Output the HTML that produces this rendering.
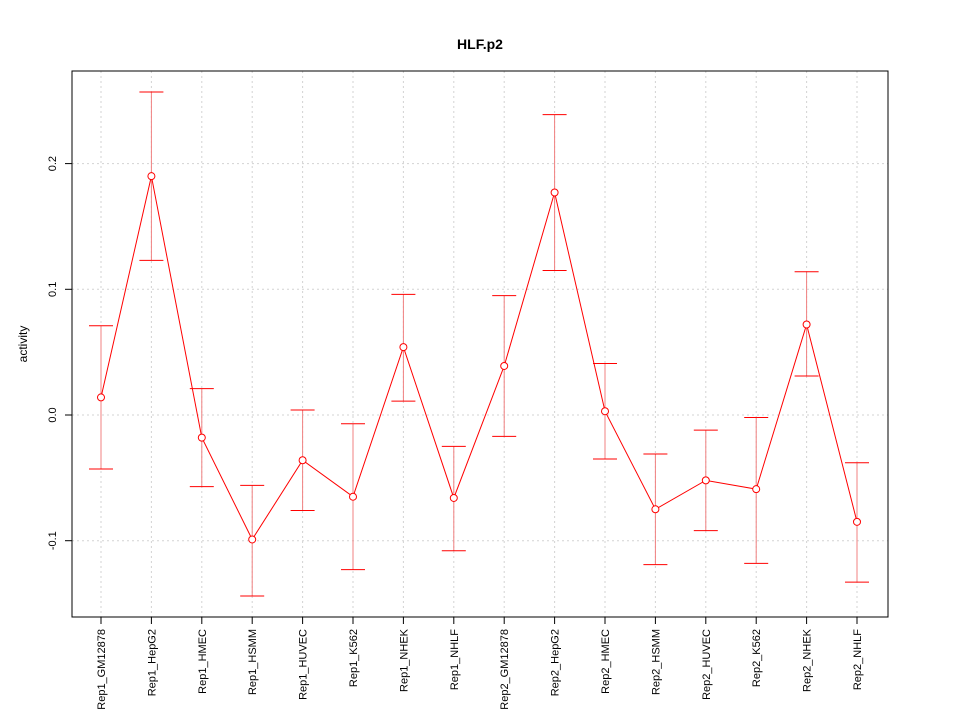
<!DOCTYPE html>
<html><head><meta charset="utf-8"><style>body{margin:0;background:#fff}svg{display:block;font-family:"Liberation Sans",sans-serif}</style></head>
<body>
<svg id="chart" width="960" height="720" xmlns="http://www.w3.org/2000/svg">
<rect width="960" height="720" fill="#fff"/>
<text x="480" y="49" text-anchor="middle" font-size="14" font-weight="bold">HLF.p2</text>
<text transform="translate(27,344) rotate(-90)" text-anchor="middle" font-size="12">activity</text>
<g id="grid"></g><g id="marks"></g><g id="axes"></g>
<rect x="72" y="71" width="816" height="546" fill="none" stroke="#000"/>
</svg>
<script>
const categories=["Rep1_GM12878","Rep1_HepG2","Rep1_HMEC","Rep1_HSMM","Rep1_HUVEC","Rep1_K562","Rep1_NHEK","Rep1_NHLF","Rep2_GM12878","Rep2_HepG2","Rep2_HMEC","Rep2_HSMM","Rep2_HUVEC","Rep2_K562","Rep2_NHEK","Rep2_NHLF"];
const values=[0.014,0.190,-0.018,-0.099,-0.036,-0.065,0.054,-0.066,0.039,0.177,0.003,-0.075,-0.052,-0.059,0.072,-0.085];
const upper=[0.071,0.257,0.021,-0.056,0.004,-0.007,0.096,-0.025,0.095,0.239,0.041,-0.031,-0.012,-0.002,0.114,-0.038];
const lower=[-0.043,0.123,-0.057,-0.144,-0.076,-0.123,0.011,-0.108,-0.017,0.115,-0.035,-0.119,-0.092,-0.118,0.031,-0.133];
const yTicks=[-0.1,0.0,0.1,0.2];
const yTickLabels=["-0.1","0.0","0.1","0.2"];
const NS="http://www.w3.org/2000/svg";
const x=i=>101+i*(857-101)/(categories.length-1);
const y=v=>415-v*1257;
function mk(p,t,a){const e=document.createElementNS(NS,t);for(const k in a)e.setAttribute(k,a[k]);p.appendChild(e);return e;}
const grid=document.getElementById('grid'),marks=document.getElementById('marks'),axes=document.getElementById('axes');
categories.forEach((c,i)=>{
 const g=mk(grid,'line',{x1:x(i),x2:x(i),y1:71,y2:617,stroke:'#d3d3d3','stroke-dasharray':'2,3'});
 
 
 const t=mk(axes,'line',{x1:x(i),x2:x(i),y1:617,y2:624,stroke:'#000'});
 
 
 const l=mk(axes,'text',{transform:`translate(${x(i)+4},629) rotate(-90)`,'text-anchor':'end','font-size':'11'});
 l.textContent=c;
 
 
});
yTicks.forEach((v,i)=>{
 const g=mk(grid,'line',{x1:72,x2:888,y1:y(v),y2:y(v),stroke:'#d3d3d3','stroke-dasharray':'2,3'});
 
 
 const t=mk(axes,'line',{x1:65,x2:72,y1:y(v),y2:y(v),stroke:'#000'});
 
 
 const l=mk(axes,'text',{transform:`translate(56,${y(v)}) rotate(-90)`,'text-anchor':'middle','font-size':'11'});
 l.textContent=yTickLabels[i];
 
 
});
categories.forEach((c,i)=>{
 const s=mk(marks,'line',{x1:x(i),x2:x(i),y1:y(upper[i]),y2:y(lower[i]),stroke:'#f08080'});
 
 
 [upper[i],lower[i]].forEach(v=>{
  const cap=mk(marks,'line',{x1:x(i)-12,x2:x(i)+12,y1:y(v),y2:y(v),stroke:'#f00'});
  
  
 });
});
const line=mk(marks,'polyline',{points:values.map((v,i)=>x(i)+','+y(v)).join(' '),fill:'none',stroke:'#f00'});


values.forEach((v,i)=>{
 const p=mk(marks,'circle',{cx:x(i),cy:y(v),r:3.5,fill:'#fff',stroke:'#f00'});
 
 
});
</script>
</body></html>
